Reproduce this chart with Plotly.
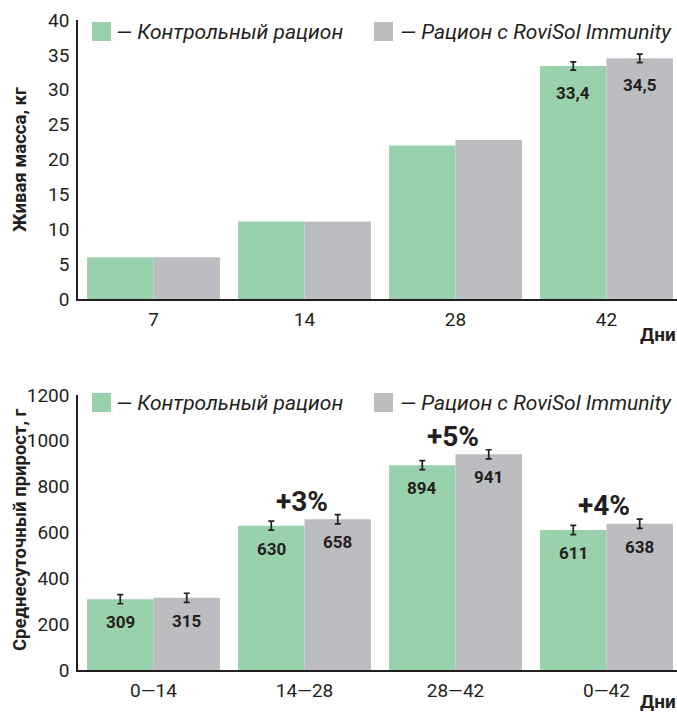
import plotly.graph_objects as go

# ---------------- data ----------------
days = ["7", "14", "28", "42"]
mass_control = [6.0, 11.1, 22.0, 33.4]
mass_rovisol = [6.0, 11.1, 22.8, 34.5]
mass_err_control = [None, None, None, 0.6]
mass_err_rovisol = [None, None, None, 0.6]
mass_labels_control = ["", "", "", "33,4"]
mass_labels_rovisol = ["", "", "", "34,5"]

periods = ["0—14", "14—28", "28—42", "0—42"]
gain_control = [309, 630, 894, 611]
gain_rovisol = [315, 658, 941, 638]
gain_err_control = [20, 20, 20, 20]
gain_err_rovisol = [20, 20, 20, 20]
gain_increase = ["", "+3%", "+5%", "+4%"]

series_names = ["— Контрольный рацион", "— Рацион с RoviSol Immunity"]
mass_title = "Живая масса, кг"
gain_title = "Среднесуточный прирост, г"
x_title = "Дни"

# ---------------- style ----------------
W, H = 677, 713
PX0, PX1, PY0, PY1 = 78, 677, 20, 670        # plot area in pixels
L, R, T, B = PX0, W - PX1, PY0, H - PY1
GREEN = "#9AD1AD"
GRAY = "#BCBDC0"
INK = "#231F20"
FONT = "Roboto"
PW = PX1 - PX0
PH = PY1 - PY0
PITCH = 151.0


def px(x):
    return (x - PX0) / PW


def py(y):
    return (PY1 - y) / PH


fig = go.Figure()
err_style = dict(type="data", color=INK, thickness=1.7, width=3)


def add_series(cats, vals, errs, name, color, group, xa, ya):
    with_err = [i for i, e in enumerate(errs) if e is not None]
    without = [i for i, e in enumerate(errs) if e is None]
    if without:
        fig.add_trace(go.Bar(x=[cats[i] for i in without], y=[vals[i] for i in without], name=name,
                             offsetgroup=group, marker=dict(color=color, line=dict(width=0)),
                             xaxis=xa, yaxis=ya, showlegend=False))
    if with_err:
        fig.add_trace(go.Bar(x=[cats[i] for i in with_err], y=[vals[i] for i in with_err], name=name,
                             offsetgroup=group, marker=dict(color=color, line=dict(width=0)),
                             error_y=dict(array=[errs[i] for i in with_err], **err_style),
                             xaxis=xa, yaxis=ya, showlegend=False))


add_series(days, mass_control, mass_err_control, series_names[0], GREEN, "c", "x", "y")
add_series(days, mass_rovisol, mass_err_rovisol, series_names[1], GRAY, "r", "x", "y")
add_series(periods, gain_control, gain_err_control, series_names[0], GREEN, "c", "x2", "y2")
add_series(periods, gain_rovisol, gain_err_rovisol, series_names[1], GRAY, "r", "x2", "y2")

top_dom = [py(299), 1.0]
bot_dom = [0.0, py(395)]
xr = [-0.5, -0.5 + PW / PITCH]

axis_common = dict(showline=True, linecolor=INK, linewidth=1.5, ticks="", showgrid=False, zeroline=False,
                   tickfont=dict(family=FONT, size=19, color=INK))

fig.update_layout(
    width=W, height=H, margin=dict(l=L, r=R, t=T, b=B, autoexpand=False),
    paper_bgcolor="white", plot_bgcolor="white",
    barmode="group", bargap=0.12, bargroupgap=0,
    showlegend=False,
    xaxis=dict(domain=[0, 1], anchor="y", range=xr, type="category", categoryorder="array",
               categoryarray=days, ticklabelstandoff=2, **axis_common),
    yaxis=dict(domain=top_dom, anchor="x", range=[0, 40], dtick=5, ticklabelstandoff=3, **axis_common),
    xaxis2=dict(domain=[0, 1], anchor="y2", range=xr, type="category", categoryorder="array",
                categoryarray=periods, ticklabelstandoff=2, **axis_common),
    yaxis2=dict(domain=bot_dom, anchor="x2", range=[0, 1200], dtick=200, ticklabelstandoff=3, **axis_common),
    font=dict(family=FONT, color=INK),
)

ann = []
shapes = []

off = PITCH * (1 - 0.12) / 4
lab_font = dict(family=FONT, size=17, color=INK, weight="bold")
# on category axes annotations are positioned by category index
for i, d in enumerate(days):
    if mass_labels_control[i]:
        ann.append(dict(x=i, y=mass_control[i], xref="x", yref="y", text=mass_labels_control[i], showarrow=False,
                        xshift=-off, yshift=-27, yanchor="middle", font=lab_font))
    if mass_labels_rovisol[i]:
        ann.append(dict(x=i, y=mass_rovisol[i], xref="x", yref="y", text=mass_labels_rovisol[i], showarrow=False,
                        xshift=off, yshift=-27, yanchor="middle", font=lab_font))

for i, p in enumerate(periods):
    ann.append(dict(x=i, y=gain_control[i], xref="x2", yref="y2", text=str(gain_control[i]), showarrow=False,
                    xshift=-off, yshift=-23, yanchor="middle", font=lab_font))
    ann.append(dict(x=i, y=gain_rovisol[i], xref="x2", yref="y2", text=str(gain_rovisol[i]), showarrow=False,
                    xshift=off, yshift=-23, yanchor="middle", font=lab_font))
    if gain_increase[i]:
        ann.append(dict(x=i, y=max(gain_control[i], gain_rovisol[i]), xref="x2", yref="y2", text=gain_increase[i],
                        showarrow=False, xshift=-3, yshift=18, yanchor="middle",
                        font=dict(family=FONT, size=28, color=INK, weight="bold")))

# legends (drawn)
for top in (22, 393):
    for (x0, col, name, tx) in ((92, GREEN, series_names[0], 114), (374, GRAY, series_names[1], 398)):
        shapes.append(dict(type="rect", xref="paper", yref="paper", x0=px(x0), x1=px(x0 + 19),
                           y0=py(top + 19), y1=py(top), fillcolor=col, line=dict(width=0)))
        ann.append(dict(x=px(tx), y=py(top + 10), xref="paper", yref="paper", text=f"<i>{name}</i>",
                        showarrow=False, xanchor="left", yanchor="middle",
                        font=dict(family=FONT, size=21, color=INK)))

# axis titles
ttl_font = dict(family=FONT, size=18.5, color=INK)
ann.append(dict(x=px(20), y=py(160), xref="paper", yref="paper", text=f"<b>{mass_title}</b>", textangle=-90,
                showarrow=False, xanchor="center", yanchor="middle", font=ttl_font))
ann.append(dict(x=px(20), y=py(530), xref="paper", yref="paper", text=f"<b>{gain_title}</b>", textangle=-90,
                showarrow=False, xanchor="center", yanchor="middle", font=ttl_font))
for yc in (334.5, 701):
    ann.append(dict(x=px(677), y=py(yc), xref="paper", yref="paper", text=f"<b>{x_title}</b>", showarrow=False,
                    xanchor="right", yanchor="middle", borderpad=0,
                    font=dict(family=FONT, size=19, color=INK)))

fig.update_layout(annotations=ann, shapes=shapes)
# remove the default page margin so the 677x713 figure fills the window exactly
fig.write_html("out.html", config={"displayModeBar": False},
               post_script="document.body.style.margin='0';document.body.style.overflow='hidden';")
